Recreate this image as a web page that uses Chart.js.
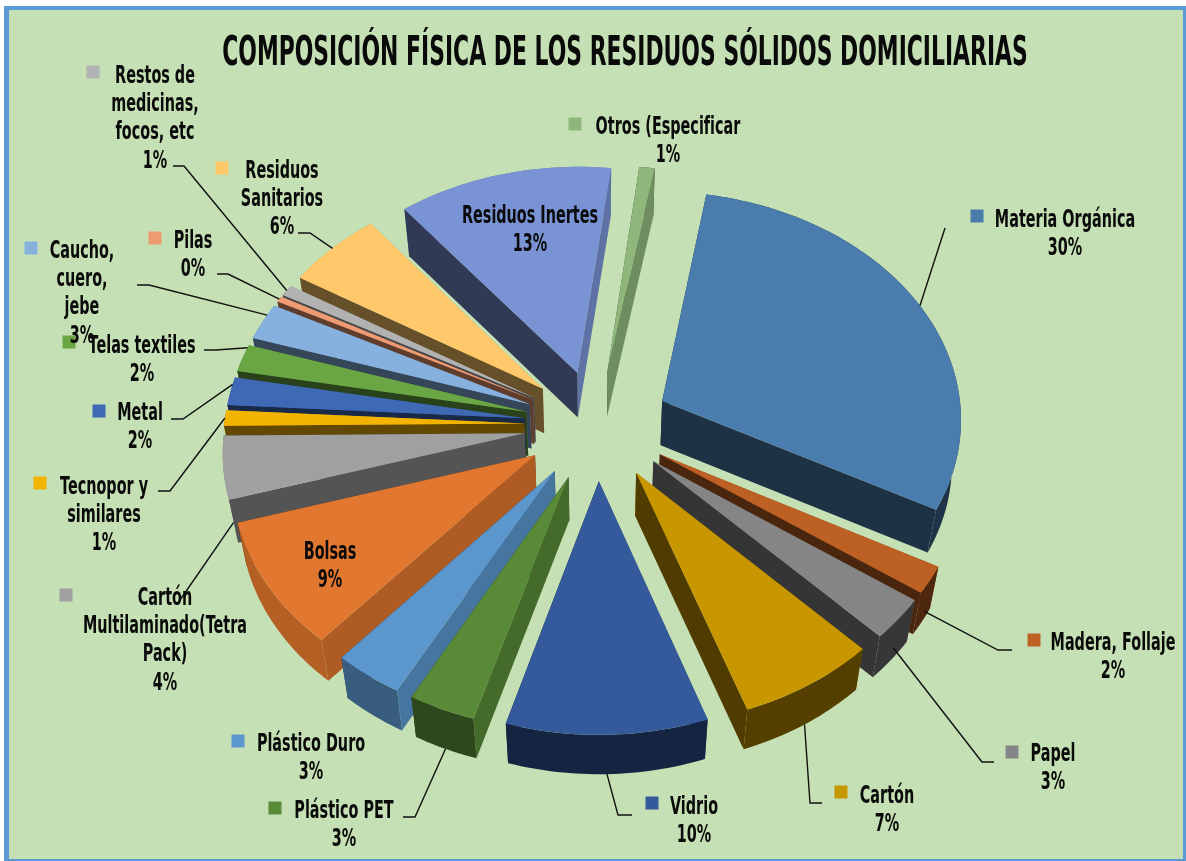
<!DOCTYPE html>
<html lang="es">
<head>
<meta charset="utf-8">
<title>Composición física</title>
<style>html,body{margin:0;padding:0;background:#fff}canvas{display:block}</style>
<script src="https://cdn.jsdelivr.net/npm/chart.js@4/dist/chart.umd.min.js"></script>
</head>
<body>
<canvas id="c" width="1186" height="861"></canvas>
<script>
const titleText = "COMPOSICIÓN FÍSICA DE LOS RESIDUOS SÓLIDOS DOMICILIARIAS";
const categories = ["Materia Orgánica","Madera, Follaje","Papel","Cartón","Vidrio","Plástico PET","Plástico Duro","Bolsas","Cartón\nMultilaminado(Tetra\nPack)","Tecnopor y\nsimilares","Metal","Telas textiles","Caucho,\ncuero,\njebe","Pilas","Restos de\nmedicinas,\nfocos, etc","Residuos\nSanitarios","Residuos Inertes","Otros (Especificar"];
const values = [30,1.94,2.94,6.94,9.97,3.33,3.47,9,4.45,1.1,1.97,1.95,2.6,0.4,0.8,5.65,12.55,0.9];
const colors = ["#4a7dae","#bc6123","#858585","#c89700","#345a9c","#598a38","#5b96cd","#e2782f","#a0a0a0","#f3b400","#3f68b5","#6aa644","#86b1de","#ee9a72","#b2b2b2","#ffc86a","#7a93d4","#8fb77c"];

// label layout: text centre x, first line y, key square centre (null = none)
const labelX = [1065,1113,1053,887,694,344,311,330,165,104,140,142,82,193,155,282,530,668];
const labelY = [220.5,643.5,754.5,796.5,807.5,811.5,744.5,552.5,598.5,487.5,413.5,346.5,251.5,241.5,76.5,171.5,216.5,127.5];
const keyPos = [[977,216],[1034,640],[1012,752],[841,792],[652,803],[275,808],[238,741],[285,548],[66,595],[40,483],[99,411],[69,342],[31,248],[155,238],[93,72],[222,168],null,[575,124]];
// leader elbows (the last point is found on the slice itself); wall: 0 top rim .. 1 base rim; along: position on the arc
const leaders = [[[945,228]],[[1012,650],[998,650]],[[994,762],[982,762]],[[822,803],[810,803]],[[632,815],[618,815]],[[403,817],[415,817]],null,null,[[180,600]],[[158,491],[170,491]],[[171,419],[183,419]],[[204,350],[216,350]],[[137,285],[149,285]],[[217,274],[228,274]],[[173,166],[184,166]],[[298,233],[310,233]],null,null];
const leaderWall = [0,.75,.7,1,1,1,0,0,.6,0,0,0,0,0,0,0,0,0];
const leaderAlong = [.5,.5,.5,.5,.5,.5,.5,.5,.05,.5,.75,.9,.7,.5,.5,.5,.5,.5];
// order in which the slices are stacked on the picture: back to front
const paintOrder = [17,16,0,15,14,13,12,11,10,9,8,7,6,5,4,1,2,3];

const LINE = 28.3, EXPLODE = 73, TILT = 0.758, PERSP = 4258, DEPTH = 44;
const FONT = '"DejaVu Sans",sans-serif', NARROW = 0.6, TITLE_NARROW = 0.718, TITLE_CX = 625;

function shade(hex, f){
  const n = parseInt(hex.slice(1),16);
  return `rgb(${(n>>16)*f|0},${((n>>8)&255)*f|0},${(n&255)*f|0})`;
}
function clamp(v){return Math.max(0,Math.min(1,v));}
function project(el, r, th, base){
  const mid = (el.startAngle + el.endAngle)/2 + Math.PI/2;
  const X = EXPLODE*Math.sin(mid) + r*Math.sin(th);
  const Y = -EXPLODE*Math.cos(mid) - r*Math.cos(th);
  const k = 1/(1 - Y/PERSP);
  let dx = X*k, dy = TILT*Y*k;
  if (base){ dx *= 0.975; dy = dy*0.985 + DEPTH; }
  return [el.x + dx, el.y + dy];
}
function poly(ctx, pts, fill){
  ctx.beginPath();
  pts.forEach((p,i)=> i ? ctx.lineTo(p[0],p[1]) : ctx.moveTo(p[0],p[1]));
  ctx.closePath();
  ctx.fillStyle = fill; ctx.fill();
}
function paintSlice(ctx, el, color){
  const a0 = el.startAngle + Math.PI/2, a1 = el.endAngle + Math.PI/2, R = el.outerRadius;
  const steps = Math.max(2, Math.ceil((a1-a0)/0.02));
  const rim = []; for(let i=0;i<=steps;i++) rim.push(a0+(a1-a0)*i/steps);
  const deg = a => ((a*180/Math.PI)%360+360)%360;
  const midA = (a0+a1)/2, t = deg(midA);
  const radial = (a,n) => ({normal:n, paint(){
    const nd = deg(n);
    const f = nd>=180 ? .4 : .4+.38*clamp((180-nd)/50);
    poly(ctx,[project(el,0,a,false),project(el,R,a,false),project(el,R,a,true),project(el,0,a,true)],shade(color,f));
  }});
  const outer = {normal:midA, paint(){
    const f = t>=190 ? .42+.38*clamp((t-190)/47) : .42;
    poly(ctx,[...rim.map(a=>project(el,R,a,false)),...rim.slice().reverse().map(a=>project(el,R,a,true))],shade(color,f));
  }};
  [radial(a0,a0-Math.PI/2),radial(a1,a1+Math.PI/2),outer]
    .sort((p,q)=>Math.cos(q.normal)-Math.cos(p.normal))   // faces turned away first
    .forEach(face=>face.paint());
  poly(ctx,[project(el,0,a0,false),...rim.map(a=>project(el,R,a,false))],color);
}

const pie3d = {
  id:'pie3d',
  afterLayout(chart){
    const tb = chart.titleBlock;
    tb.left = 64; tb.right = 1186;
    if(!tb._narrowed){
      const draw = tb.draw.bind(tb);
      tb.draw = function(){
        const c = chart.ctx; c.save();
        c.translate(TITLE_CX,0); c.scale(TITLE_NARROW,1); c.translate(-TITLE_CX,0);
        draw(); c.restore();
      };
      tb._narrowed = true;
    }
  },
  beforeDraw(chart){
    const c = chart.ctx;
    c.save();
    c.fillStyle='#fff'; c.fillRect(0,0,1186,861);
    c.fillStyle='#5b9bd5'; c.fillRect(4,6,1182,855);
    c.fillStyle='#c5e0b4'; c.fillRect(9,10,1174,849);
    c.restore();
  },
  beforeDatasetsDraw(chart){
    const c = chart.ctx, arcs = chart.getDatasetMeta(0).data;
    paintOrder.forEach(i=>paintSlice(c,arcs[i],colors[i]));
    c.save(); c.strokeStyle='#111'; c.lineWidth=1.4;
    leaders.forEach((pts,i)=>{
      if(!pts) return;
      const e = arcs[i], th = e.startAngle+(e.endAngle-e.startAngle)*leaderAlong[i]+Math.PI/2;
      const top = project(e,e.outerRadius,th,false), bot = project(e,e.outerRadius,th,true), w = leaderWall[i];
      const end = [top[0]+(bot[0]-top[0])*w, top[1]+(bot[1]-top[1])*w];
      c.beginPath();
      pts.forEach((p,k)=>k?c.lineTo(p[0],p[1]):c.moveTo(p[0],p[1]));
      c.lineTo(end[0],end[1]); c.stroke();
    });
    c.restore();
    const total = values.reduce((a,b)=>a+b,0);
    c.save();
    categories.forEach((name,i)=>{
      if(keyPos[i]){ c.fillStyle=colors[i]; c.fillRect(keyPos[i][0]-6.5,keyPos[i][1]-6.5,13,13); }
    });
    c.font = 'bold 24px '+FONT; c.textAlign='center'; c.textBaseline='middle'; c.fillStyle='#0a0a0a';
    categories.forEach((name,i)=>{
      const lines = name.split('\n').concat(Math.round(values[i]/total*100)+'%');
      lines.forEach((l,k)=>{
        c.save(); c.translate(labelX[i],labelY[i]+k*LINE); c.scale(NARROW,1);
        c.fillText(l,0,0); c.restore();
      });
    });
    c.restore();
    return false;
  }
};

new Chart(document.getElementById('c'),{
  type:'pie',
  data:{labels:categories.map(s=>s.replace(/\n/g,' ')),
        datasets:[{data:values,backgroundColor:colors,borderWidth:0,offset:0}]},
  options:{
    responsive:false,animation:false,rotation:10,
    layout:{padding:{left:297,right:289,top:0,bottom:136}},
    plugins:{
      legend:{display:false},tooltip:{enabled:false},
      title:{display:true,text:titleText,color:'#0a0a0a',
        font:{family:FONT,weight:'bold',size:41,lineHeight:1.2},
        padding:{top:30,bottom:45.8}}
    }
  },
  plugins:[pie3d]
});
</script>
</body>
</html>
